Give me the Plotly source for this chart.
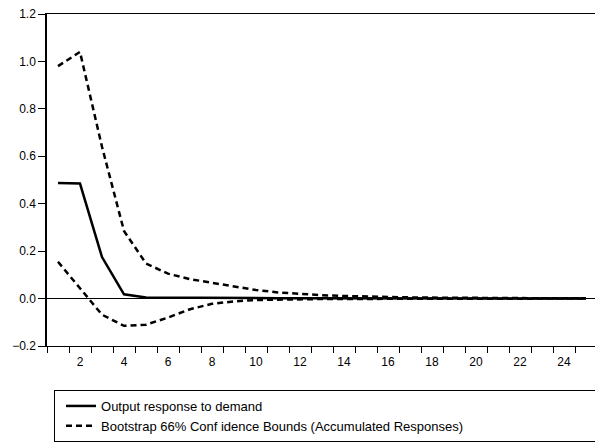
import plotly.graph_objects as go

periods = list(range(1, 26))
response = [0.487, 0.485, 0.175, 0.018, 0.005, 0.004, 0.0035, 0.003, 0.0025, 0.002,
            0.0018, 0.0015, 0.0012, 0.001, 0.0008, 0.0006, 0.0005, 0.0004, 0.0003, 0.0003,
            0.0002, 0.0002, 0.0001, 0.0001, 0.0001]
upper = [0.98, 1.04, 0.64, 0.285, 0.148, 0.105, 0.082, 0.066, 0.05, 0.036,
         0.026, 0.019, 0.014, 0.011, 0.008, 0.006, 0.005, 0.004, 0.003, 0.0025,
         0.002, 0.0015, 0.0012, 0.001, 0.001]
lower = [0.155, 0.045, -0.068, -0.115, -0.11, -0.08, -0.045, -0.022, -0.012, -0.006,
         -0.004, -0.003, -0.002, -0.0015, -0.001, -0.001, -0.0008, -0.0006, -0.0005, -0.0004,
         -0.0003, -0.0003, -0.0002, -0.0002, -0.0001]
x_labels = [str(v) for v in range(2, 25, 2)]
y_ticks = [-0.2, 0.0, 0.2, 0.4, 0.6, 0.8, 1.0, 1.2]

FONT = "Arial, Liberation Sans, sans-serif"

fig = go.Figure()
fig.add_trace(go.Scatter(x=periods, y=response, mode="lines",
                         line=dict(color="black", width=2.5),
                         name="Output response to demand"))
fig.add_trace(go.Scatter(x=periods, y=upper, mode="lines",
                         line=dict(color="black", width=2.5, dash="6px,4px"),
                         name="Bootstrap 66% Conf idence Bounds (Accumulated Responses)"))
fig.add_trace(go.Scatter(x=periods, y=lower, mode="lines",
                         line=dict(color="black", width=2.5, dash="6px,4px"),
                         showlegend=False, name="lower"))

fig.update_layout(
    width=595, height=443,
    margin=dict(l=47, r=0, t=14, b=97, autoexpand=False),
    paper_bgcolor="white", plot_bgcolor="white",
    font=dict(family=FONT, size=12, color="black"),
    showlegend=True,
    legend=dict(x=0.0128, y=-0.1325, xanchor="left", yanchor="top",
                orientation="h", entrywidth=494, entrywidthmode="pixels",
                indentation=6,
                bordercolor="black", borderwidth=1, bgcolor="white",
                font=dict(family=FONT, size=13, color="black"),
                tracegroupgap=0, itemwidth=30),
    xaxis=dict(range=[0.5, 25.409], showgrid=False, zeroline=False,
               showline=True, linecolor="black", linewidth=1, mirror=True,
               tickmode="array", tickvals=list(range(2, 25, 2)), ticktext=x_labels,
               ticks="", ticklen=0, ticklabelstandoff=5,
               minor=dict(tickmode="linear", tick0=0.5, dtick=1, ticks="outside",
                          ticklen=6, tickcolor="black", tickwidth=1, showgrid=False),
               tickfont=dict(family=FONT, size=12, color="black")),
    yaxis=dict(range=[-0.2, 1.2], showgrid=False,
               zeroline=True, zerolinecolor="black", zerolinewidth=1,
               showline=True, linecolor="black", linewidth=1.5, mirror=False,
               tickmode="array", tickvals=y_ticks, tickformat=".1f",
               ticks="outside", ticklen=7, tickcolor="black",
               tickfont=dict(family=FONT, size=12, color="black")),
)

fig.write_html("out.html",
               post_script="document.body.style.margin='0';document.body.style.overflow='hidden';")
